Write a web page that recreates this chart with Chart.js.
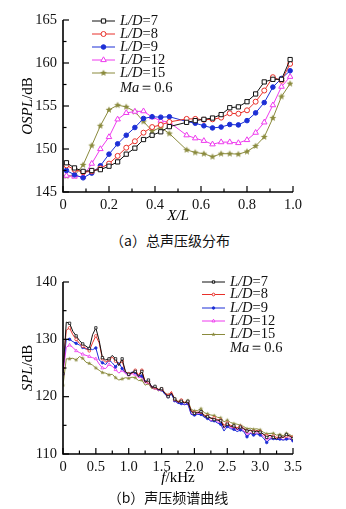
<!DOCTYPE html>
<html lang="zh">
<head>
  <meta charset="UTF-8" />
  <title>总声压级分布 / 声压频谱曲线</title>
  <script src="https://cdn.jsdelivr.net/npm/chart.js"></script>
  <style>
    html, body { margin: 0; padding: 0; background: #fff; }
    body { width: 346px; height: 509px; position: relative; overflow: hidden; }
    canvas { position: absolute; left: 0; }
    #chartA { top: 0; }
    #chartB { top: 250px; }
    .cap {
      position: absolute; left: 0; width: 346px; text-align: center;
      font-family: "Noto Sans CJK SC", sans-serif; font-size: 14px; line-height: 18px; color: #111;
    }
  </style>
</head>
<body>

  <canvas id="chartA" width="346" height="228"></canvas>
  <div class="cap" style="top:231px; left:-3px;">（a）总声压级分布</div>

  <canvas id="chartB" width="346" height="240"></canvas>
  <div class="cap" style="top:488px; left:-5px;">（b）声压频谱曲线</div>

  <script>
    // ---- (a) OSPL along the cavity ----
    const xPos = [0.015, 0.05, 0.0875, 0.125, 0.1625, 0.2, 0.2375, 0.275, 0.3125, 0.35, 0.3875, 0.425, 0.4625,
                  0.5375, 0.575, 0.6125, 0.65, 0.6875, 0.725, 0.7625, 0.8, 0.8375, 0.875, 0.9125, 0.95, 0.9875];
    const osplLD7  = [148.4, 147.8, 147.4, 147.5, 147.6, 148.0, 148.5, 149.4, 150.1, 151.1, 151.6, 152.0, 152.6,
                      153.1, 153.3, 153.45, 153.6, 154.0, 154.8, 154.9, 155.5, 156.4, 157.8, 158.1, 158.1, 160.4];
    const osplLD8  = [148.1, 147.6, 147.3, 147.4, 147.75, 148.3, 149.2, 150.15, 150.9, 151.9, 152.55, 152.8, 153.15,
                      153.5, 153.5, 153.4, 153.45, 153.65, 154.15, 154.1, 154.5, 155.5, 156.8, 158.35, 157.95, 159.9];
    const osplLD9  = [147.5, 147.0, 146.65, 147.2, 148.05, 149.4, 150.6, 151.6, 152.5, 153.55, 153.75, 153.7, 153.75,
                      153.2, 153.0, 152.7, 152.45, 152.55, 152.85, 152.8, 153.3, 154.2, 155.4, 157.2, 158.2, 159.1];
    const osplLD12 = [146.9, 146.8, 146.8, 148.3, 150.0, 151.4, 153.45, 154.2, 154.35, 154.4, 153.7, 153.3, 153.1,
                      151.6, 151.25, 150.95, 150.55, 150.8, 150.8, 150.7, 151.05, 151.9, 153.1, 155.1, 157.25, 158.4];
    const osplLD15 = [146.85, 146.9, 148.15, 150.4, 152.7, 154.55, 155.1, 154.9, 154.35, 153.2, 152.1, 152.5, 151.8,
                      149.9, 149.6, 149.45, 149.1, 149.45, 149.45, 149.4, 149.7, 150.35, 151.4, 153.6, 156.1, 157.6];

    // ---- (b) SPL spectrum ----
    const freq = [0, 0.05, 0.1, 0.15, 0.2, 0.25, 0.3, 0.35, 0.4, 0.45, 0.5, 0.55, 0.6, 0.65, 0.7, 0.75, 0.8, 0.85, 0.9, 0.95, 1.0,
                  1.05, 1.1, 1.15, 1.2, 1.25, 1.3, 1.35, 1.4, 1.45, 1.5, 1.55, 1.6, 1.65, 1.7, 1.75, 1.8, 1.85, 1.9, 1.95, 2.0,
                  2.05, 2.1, 2.15, 2.2, 2.25, 2.3, 2.35, 2.4, 2.45, 2.5, 2.55, 2.6, 2.65, 2.7, 2.75, 2.8, 2.85, 2.9, 2.95, 3.0,
                  3.05, 3.1, 3.15, 3.2, 3.25, 3.3, 3.35, 3.4, 3.45, 3.5];
    const splLD7  = [124.0, 133.0, 132.8, 131.4, 130.6, 129.8, 129.2, 128.8, 128.4, 130.8, 132.0, 129.8, 126.8, 126.4, 126.6, 127.2, 126.6, 125.4, 126.6, 124.4, 123.9,
                     124.2, 124.4, 123.5, 124.4, 122.5, 122.9, 121.6, 121.8, 121.2, 121.4, 120.6, 120.0, 120.6, 119.6, 119.0, 119.2, 118.9, 119.2, 117.4, 117.1,
                     117.2, 117.4, 116.6, 116.5, 116.3, 116.0, 115.9, 115.8, 114.6, 115.2, 114.8, 114.9, 114.3, 114.7, 114.4, 114.0, 114.2, 113.8, 114.0, 113.8,
                     113.5, 112.9, 113.3, 112.9, 112.6, 113.1, 112.9, 113.4, 113.1, 112.7];
    const splLD8  = [125.0, 131.6, 132.0, 130.8, 130.0, 129.3, 128.8, 128.4, 128.0, 129.4, 130.6, 129.4, 126.6, 126.0, 126.4, 126.9, 126.2, 125.7, 126.2, 124.3, 124.0,
                     124.1, 124.6, 123.8, 124.6, 122.6, 122.6, 121.7, 121.6, 121.3, 121.3, 120.7, 120.2, 120.9, 119.5, 119.1, 119.4, 119.0, 119.1, 117.6, 117.2,
                     117.3, 117.3, 116.8, 116.6, 116.2, 116.3, 116.0, 115.9, 115.0, 115.4, 115.0, 114.8, 114.6, 114.8, 114.5, 114.0, 114.1, 113.9, 114.1, 113.9,
                     113.4, 113.2, 113.2, 113.1, 112.9, 113.0, 112.9, 113.1, 113.2, 112.9];
    const splLD9  = [125.0, 130.0, 130.0, 129.6, 129.3, 129.0, 128.6, 128.3, 128.4, 128.2, 128.5, 126.4, 125.9, 125.6, 126.4, 125.9, 125.2, 126.0, 124.9, 124.2, 123.9,
                     124.3, 124.2, 123.6, 123.6, 122.8, 122.6, 121.8, 121.6, 121.2, 121.2, 120.4, 120.0, 120.4, 119.3, 118.8, 118.8, 118.6, 118.8, 116.9, 116.8,
                     116.9, 116.9, 116.4, 116.2, 115.7, 115.8, 115.4, 115.2, 114.0, 114.8, 114.4, 114.3, 113.9, 114.2, 113.9, 113.0, 113.6, 113.3, 113.5, 113.3,
                     112.8, 112.0, 112.6, 112.7, 112.5, 112.6, 112.4, 112.6, 112.6, 112.3];
    const splLD12 = [124.0, 128.6, 129.0, 128.6, 128.0, 127.7, 127.4, 127.2, 127.0, 126.8, 126.6, 125.7, 125.0, 124.9, 125.6, 125.3, 124.7, 124.1, 124.6, 124.0, 123.8,
                     124.0, 123.9, 123.3, 123.5, 122.4, 122.5, 121.6, 121.5, 121.1, 121.2, 120.5, 120.1, 120.6, 119.4, 118.9, 118.9, 118.6, 118.8, 117.0, 116.9,
                     117.0, 117.1, 116.4, 116.4, 115.8, 116.0, 115.6, 115.5, 114.5, 115.0, 114.6, 114.6, 114.2, 114.4, 114.1, 113.4, 113.7, 113.5, 113.7, 113.5,
                     113.1, 112.6, 112.8, 112.8, 112.6, 112.7, 112.5, 112.7, 112.8, 112.4];
    const splLD15 = [122.0, 126.6, 126.6, 126.7, 126.4, 127.0, 126.7, 126.0, 125.8, 125.5, 125.0, 124.6, 124.2, 124.1, 123.8, 123.9, 123.3, 122.9, 123.1, 123.3, 123.2,
                     123.4, 123.3, 122.8, 122.9, 122.0, 122.3, 121.4, 121.5, 121.0, 121.2, 120.6, 120.3, 120.6, 119.6, 119.2, 119.3, 119.0, 119.3, 117.8, 117.5,
                     117.6, 117.9, 117.2, 117.0, 116.8, 116.7, 116.4, 116.3, 115.6, 115.9, 115.5, 115.3, 115.2, 115.0, 114.8, 114.4, 114.5, 114.3, 114.4, 114.2,
                     113.8, 113.5, 113.6, 113.6, 113.3, 113.4, 113.2, 113.6, 113.4, 113.0];

    const seriesNames = ['=7', '=8', '=9', '=12', '=15'];
    const colors = ['#111111', '#e8302a', '#1c2fd6', '#ee3bee', '#8a8a3c'];

    const SERIF = '"Liberation Serif", "DejaVu Serif", serif';

    function starImg(color, r) {
      const c = document.createElement('canvas');
      const s = Math.ceil(2 * r + 2);
      c.width = s; c.height = s;
      const g = c.getContext('2d');
      g.fillStyle = color;
      g.beginPath();
      for (let i = 0; i < 10; i++) {
        const ang = -Math.PI / 2 + i * Math.PI / 5;
        const rr = i % 2 ? r * 0.45 : r;
        g.lineTo(s / 2 + rr * Math.cos(ang), s / 2 + rr * Math.sin(ang));
      }
      g.closePath();
      g.fill();
      return c;
    }

    function markerStyles(big) {
      const k = big ? 1 : 0.55;
      return [
        { pointStyle: 'rect', radius: 3 * k, fill: '#fff' },
        { pointStyle: 'circle', radius: 2.5 * k, fill: '#fff' },
        { pointStyle: 'circle', radius: 2.3 * k, fill: colors[2] },
        { pointStyle: 'triangle', radius: 3.2 * k, fill: '#fff' },
        { pointStyle: starImg(colors[4], big ? 3.6 : 2.2), radius: 3 * k, fill: colors[4] }
      ];
    }

    // mixed italic/upright text
    function richText(ctx, parts, x, y, size, align) {
      const fonts = parts.map(p => (p[1] ? 'italic ' : '') + size + 'px ' + SERIF);
      let w = 0;
      const ws = parts.map((p, i) => { ctx.font = fonts[i]; const m = ctx.measureText(p[0]).width; w += m; return m; });
      let cx = align === 'center' ? x - w / 2 : x;
      ctx.textBaseline = 'middle';
      ctx.textAlign = 'left';
      parts.forEach((p, i) => { ctx.font = fonts[i]; ctx.fillText(p[0], cx, y); cx += ws[i]; });
    }

    const axisDeco = {
      id: 'axisDeco',
      afterDraw(chart, args, o) {
        const { ctx, chartArea: a, scales: { x, y } } = chart;
        ctx.save();
        ctx.strokeStyle = '#000';
        ctx.fillStyle = '#000';
        ctx.lineWidth = 1.6;
        ctx.beginPath();
        ctx.moveTo(a.left, a.top);
        ctx.lineTo(a.left, a.bottom);
        ctx.lineTo(a.right, a.bottom);
        ctx.stroke();

        // inward ticks, major + minor
        ctx.lineWidth = 1.2;
        for (let i = 0; i <= o.xCount; i++) {
          const px = x.getPixelForValue(x.min + i * o.xMinor);
          const len = i % 2 ? 3.5 : 6;
          ctx.beginPath(); ctx.moveTo(px, a.bottom); ctx.lineTo(px, a.bottom - len); ctx.stroke();
        }
        for (let i = 0; i <= o.yCount; i++) {
          const py = y.getPixelForValue(y.min + i * o.yMinor);
          const len = i % 2 ? 3.5 : 6;
          ctx.beginPath(); ctx.moveTo(a.left, py); ctx.lineTo(a.left + len, py); ctx.stroke();
        }

        // axis titles
        richText(ctx, o.xTitle, (a.left + a.right) / 2, a.bottom + 24, 15, 'center');
        ctx.save();
        ctx.translate(28, (a.top + a.bottom) / 2);
        ctx.rotate(-Math.PI / 2);
        richText(ctx, o.yTitle, 0, 0, 15, 'center');
        ctx.restore();

        // legend
        const L = o.legend;
        chart.data.datasets.forEach((ds, i) => {
          const ly = L.rows[i];
          ctx.strokeStyle = ds.borderColor;
          ctx.lineWidth = 1;
          ctx.beginPath(); ctx.moveTo(L.x0, ly); ctx.lineTo(L.x1, ly); ctx.stroke();
          ctx.fillStyle = o.marks[i].fill;
          Chart.helpers.drawPoint(ctx, { pointStyle: o.marks[i].pointStyle, radius: o.marks[i].radius, borderWidth: 1, rotation: 0 }, (L.x0 + L.x1) / 2, ly);
          ctx.fillStyle = '#111';
          richText(ctx, [['L/D', true], [seriesNames[i], false]], L.tx, ly, 14.5, 'left');
        });
        ctx.fillStyle = '#111';
        richText(ctx, [['Ma', true], ['\uFF1D0.6', false]], L.tx, L.maY, 14.5, 'left');
        ctx.restore();
      }
    };

    function makeDatasets(xs, ys, big) {
      const marks = markerStyles(big);
      return ys.map((vals, i) => ({
        data: xs.map((xv, j) => ({ x: xv, y: vals[j] })),
        borderColor: colors[i],
        backgroundColor: marks[i].fill,
        borderWidth: 1,
        pointStyle: marks[i].pointStyle,
        pointRadius: big ? marks[i].radius : (c => (c.dataIndex % 2 ? 0 : marks[i].radius)),
        pointBorderWidth: big ? 1 : 0.8,
        pointBorderColor: colors[i],
        pointBackgroundColor: marks[i].fill,
        tension: 0
      }));
    }

    function tickFont() { return { family: 'Liberation Serif', size: 14.5 }; }

    function makeChart(id, xs, ys, xr, yr, deco, padTop, xH, big) {
      return new Chart(document.getElementById(id), {
        type: 'line',
        data: { datasets: makeDatasets(xs, ys, big) },
        plugins: [axisDeco],
        options: {
          responsive: false,
          animation: false,
          layout: { padding: { left: 0, right: 53, top: padTop, bottom: 0 } },
          plugins: {
            legend: { display: false },
            tooltip: { enabled: false },
            axisDeco: Object.assign({ marks: markerStyles(big) }, deco)
          },
          scales: {
            x: {
              type: 'linear', min: xr[0], max: xr[1],
              grid: { display: false, drawTicks: false }, border: { display: false },
              ticks: { stepSize: xr[2], padding: 4, color: '#111', font: tickFont(), maxRotation: 0, autoSkip: false,
                       callback: v => (v === 0 ? '0' : v.toFixed(1)) },
              afterFit: s => { s.height = xH; }
            },
            y: {
              min: yr[0], max: yr[1],
              grid: { display: false, drawTicks: false }, border: { display: false },
              ticks: { stepSize: yr[2], padding: 6, color: '#111', font: tickFont() },
              afterFit: s => { s.width = 63; }
            }
          }
        }
      });
    }

    makeChart('chartA', xPos, [osplLD7, osplLD8, osplLD9, osplLD12, osplLD15],
      [0, 1, 0.2], [145, 165, 5],
      {
        xCount: 10, xMinor: 0.1, yCount: 8, yMinor: 2.5,
        xTitle: [['X/L', true]], yTitle: [['OSPL', true], ['/dB', false]],
        legend: { x0: 92, x1: 115, tx: 120, rows: [21, 34, 47, 60, 73], maY: 88 }
      }, 20, 36, true);

    makeChart('chartB', freq, [splLD7, splLD8, splLD9, splLD12, splLD15],
      [0, 3.5, 0.5], [110, 140, 10],
      {
        xCount: 14, xMinor: 0.25, yCount: 6, yMinor: 5,
        xTitle: [['f', true], ['/kHz', false]], yTitle: [['SPL', true], ['/dB', false]],
        legend: { x0: 202, x1: 225, tx: 230, rows: [32, 44.5, 58, 71, 84.5], maY: 98.5 }
      }, 32, 36, false);
  </script>

</body>
</html>
